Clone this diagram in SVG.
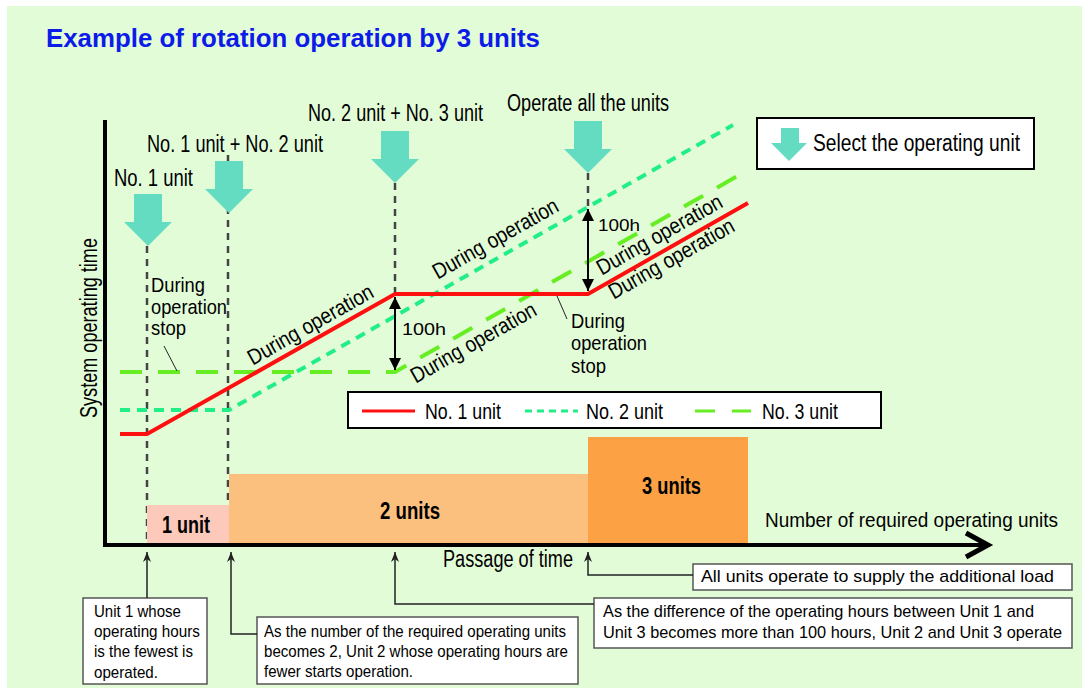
<svg xmlns="http://www.w3.org/2000/svg" width="1082" height="692" viewBox="0 0 1082 692">
<defs>
<style>
text{font-family:"Liberation Sans",Arial,sans-serif;fill:#000;}
.t21{font-size:23px;}
.t20{font-size:22px;}
.ts{font-size:21px;}
.t17{font-size:17px;}
.b{font-weight:bold;}
.vdash{stroke:#444;stroke-width:2.5;stroke-dasharray:7 6;fill:none;}
.red{stroke:#ff1010;stroke-width:4;fill:none;stroke-linejoin:miter;}
.g2{stroke:#22ee88;stroke-width:4;fill:none;stroke-dasharray:10 7;}
.g3{stroke:#66ee22;stroke-width:4;fill:none;stroke-dasharray:22 16;}
.box{fill:#fff;stroke:#555;stroke-width:1.5;}
.lbox{fill:#fff;stroke:#000;stroke-width:2;}
.lead{stroke:#222;stroke-width:1.5;fill:none;}
.teal{fill:#64dcc1;}
.dbl{stroke:#000;stroke-width:2;fill:none;}
</style>
<path id="bigArrow" d="M-14,-52 H14 V-24 H24 L0,0 L-24,-24 H-14 Z"/>
<marker id="up" viewBox="0 0 10 10" refX="10" refY="5" markerWidth="10" markerHeight="10" markerUnits="userSpaceOnUse" orient="auto">
<path d="M0,1 L10,5 L0,9 L3,5 Z" fill="#222"/>
</marker>
<marker id="tri" viewBox="0 0 12 12" refX="12" refY="6" markerWidth="12" markerHeight="12" markerUnits="userSpaceOnUse" orient="auto">
<path d="M0,0 L12,6 L0,12 Z" fill="#000"/>
</marker>
<marker id="triS" viewBox="0 0 12 12" refX="0" refY="6" markerWidth="12" markerHeight="12" markerUnits="userSpaceOnUse" orient="auto">
<path d="M12,0 L0,6 L12,12 Z" fill="#000"/>
</marker>
</defs>

<rect x="0" y="0" width="1082" height="692" fill="#fff"/>
<rect x="7" y="6" width="1075" height="682" fill="#e3fcd8"/>

<g id="title">
<text x="46" y="47" font-size="26" class="b" style="fill:#0d1be8" textLength="494" lengthAdjust="spacingAndGlyphs">Example of rotation operation by 3 units</text>
</g>

<g id="guides">
<line class="vdash" x1="147" y1="246" x2="147" y2="545"/>
<line class="vdash" x1="228" y1="155" x2="228" y2="545"/>
<line class="vdash" x1="395" y1="183" x2="395" y2="293"/>
<line class="vdash" x1="588" y1="173" x2="588" y2="207"/>
</g>

<g id="bars">
<rect x="147" y="505" width="82" height="40" fill="#fcc9bb"/>
<rect x="229" y="474" width="359" height="71" fill="#fcc07e"/>
<rect x="588" y="437" width="160" height="108" fill="#fca244"/>
<text x="162" y="533" class="t21 b" textLength="48" lengthAdjust="spacingAndGlyphs">1 unit</text>
<text x="380" y="519" class="t21 b" textLength="60" lengthAdjust="spacingAndGlyphs">2 units</text>
<text x="642" y="494" class="t21 b" textLength="59" lengthAdjust="spacingAndGlyphs">3 units</text>
</g>

<g id="lines">
<polyline class="g3" points="120,372 395,372 748,170"/>
<polyline class="g2" points="120,410 229,410 733,125"/>
<polyline class="red" points="120,434 147,434 395,294 588,294 748,203"/>
</g>

<g id="axes">
<line x1="105" y1="120" x2="105" y2="547" stroke="#000" stroke-width="4"/>
<line x1="103" y1="545" x2="986" y2="545" stroke="#000" stroke-width="4"/>
<polyline points="966,533 988,545 966,557" fill="none" stroke="#000" stroke-width="5"/>
<text transform="translate(97,418) rotate(-90)" class="t21" textLength="180" lengthAdjust="spacingAndGlyphs">System operating time</text>
<text x="765" y="527" font-size="20" textLength="293" lengthAdjust="spacingAndGlyphs">Number of required operating units</text>
<text x="443" y="567" class="t21" textLength="130" lengthAdjust="spacingAndGlyphs">Passage of time</text>
</g>

<g id="select-arrows">
<use href="#bigArrow" class="teal" transform="translate(148,246)"/>
<use href="#bigArrow" class="teal" transform="translate(229,213)"/>
<use href="#bigArrow" class="teal" transform="translate(395,183)"/>
<use href="#bigArrow" class="teal" transform="translate(588,173)"/>
<text x="114" y="186" class="t21" textLength="79" lengthAdjust="spacingAndGlyphs">No. 1 unit</text>
<text x="147" y="152" class="t21" textLength="176" lengthAdjust="spacingAndGlyphs">No. 1 unit + No. 2 unit</text>
<text x="308" y="121" class="t21" textLength="175" lengthAdjust="spacingAndGlyphs">No. 2 unit + No. 3 unit</text>
<text x="507" y="111" class="t21" textLength="162" lengthAdjust="spacingAndGlyphs">Operate all the units</text>
</g>

<g id="legend-select">
<rect class="lbox" x="757" y="118" width="277" height="51"/>
<path class="teal" d="M781,128 H799 V143 H807 L789,161 L771,143 H781 Z"/>
<text x="813" y="151" class="t21" textLength="207" lengthAdjust="spacingAndGlyphs">Select the operating unit</text>
</g>

<g id="legend-lines">
<rect class="lbox" x="348" y="392" width="533" height="36"/>
<line x1="362" y1="411" x2="415" y2="411" stroke="#ff1010" stroke-width="3"/>
<text x="425" y="419" class="t20" textLength="76" lengthAdjust="spacingAndGlyphs">No. 1 unit</text>
<line x1="525" y1="411" x2="578" y2="411" stroke="#22ee88" stroke-width="3" stroke-dasharray="7 5"/>
<text x="586" y="419" class="t20" textLength="77" lengthAdjust="spacingAndGlyphs">No. 2 unit</text>
<line x1="695" y1="411" x2="751" y2="411" stroke="#66ee22" stroke-width="3" stroke-dasharray="20 17"/>
<text x="762" y="419" class="t20" textLength="76" lengthAdjust="spacingAndGlyphs">No. 3 unit</text>
</g>

<g id="op-labels">
<text transform="translate(314,331) rotate(-29.5)" text-anchor="middle" class="t20" textLength="141" lengthAdjust="spacingAndGlyphs">During operation</text>
<text transform="translate(499,245) rotate(-29.5)" text-anchor="middle" class="t20" textLength="141" lengthAdjust="spacingAndGlyphs">During operation</text>
<text transform="translate(477,349) rotate(-29.5)" text-anchor="middle" class="t20" textLength="141" lengthAdjust="spacingAndGlyphs">During operation</text>
<text transform="translate(663,241) rotate(-29.5)" text-anchor="middle" class="t20" textLength="141" lengthAdjust="spacingAndGlyphs">During operation</text>
<text transform="translate(675,265) rotate(-29.5)" text-anchor="middle" class="t20" textLength="141" lengthAdjust="spacingAndGlyphs">During operation</text>
</g>

<g id="stop-left">
<text x="151" y="292" class="ts" textLength="54" lengthAdjust="spacingAndGlyphs">During</text>
<text x="151" y="314" class="ts" textLength="76" lengthAdjust="spacingAndGlyphs">operation</text>
<text x="151" y="335" class="ts" textLength="35" lengthAdjust="spacingAndGlyphs">stop</text>
<line x1="164" y1="346" x2="177" y2="371" stroke="#222" stroke-width="1"/>
</g>

<g id="stop-right">
<text x="571" y="328" class="ts" textLength="54" lengthAdjust="spacingAndGlyphs">During</text>
<text x="571" y="350" class="ts" textLength="76" lengthAdjust="spacingAndGlyphs">operation</text>
<text x="571" y="373" class="ts" textLength="35" lengthAdjust="spacingAndGlyphs">stop</text>
<line x1="557" y1="296" x2="567" y2="319" stroke="#222" stroke-width="1"/>
</g>

<g id="gap-100h">
<line class="dbl" x1="395" y1="297" x2="395" y2="370" marker-start="url(#triS)" marker-end="url(#tri)"/>
<text x="402" y="335" class="t17" textLength="44" lengthAdjust="spacingAndGlyphs">100h</text>
<line class="dbl" x1="588" y1="209" x2="588" y2="291" marker-start="url(#triS)" marker-end="url(#tri)"/>
<text x="598" y="231" class="t17" textLength="42" lengthAdjust="spacingAndGlyphs">100h</text>
</g>

<g id="note-1">
<rect class="box" x="83" y="598" width="124" height="86"/>
<text x="94" y="617" class="t17" textLength="87" lengthAdjust="spacingAndGlyphs">Unit 1 whose</text>
<text x="94" y="637" class="t17" textLength="106" lengthAdjust="spacingAndGlyphs">operating hours</text>
<text x="94" y="657" class="t17" textLength="99" lengthAdjust="spacingAndGlyphs">is the fewest is</text>
<text x="94" y="678" class="t17" textLength="64" lengthAdjust="spacingAndGlyphs">operated.</text>
</g>

<g id="note-2">
<rect class="box" x="257" y="617" width="321" height="67"/>
<text x="264" y="637" class="t17" textLength="302" lengthAdjust="spacingAndGlyphs">As the number of the required operating units</text>
<text x="264" y="657" class="t17" textLength="304" lengthAdjust="spacingAndGlyphs">becomes 2, Unit 2 whose operating hours are</text>
<text x="264" y="677" class="t17" textLength="149" lengthAdjust="spacingAndGlyphs">fewer starts operation.</text>
</g>

<g id="note-3">
<rect class="box" x="693" y="564" width="379" height="26"/>
<text x="701" y="582" class="t17" textLength="353" lengthAdjust="spacingAndGlyphs">All units operate to supply the additional load</text>
</g>

<g id="note-4">
<rect class="box" x="594" y="598" width="478" height="50"/>
<text x="603" y="617" class="t17" textLength="431" lengthAdjust="spacingAndGlyphs">As the difference of the operating hours between Unit 1 and</text>
<text x="603" y="638" class="t17" textLength="459" lengthAdjust="spacingAndGlyphs">Unit 3 becomes more than 100 hours, Unit 2 and Unit 3 operate</text>
</g>

<g id="connectors">
<polyline class="lead" points="147,598 147,552" marker-end="url(#up)"/>
<polyline class="lead" points="257,634 231,634 231,552" marker-end="url(#up)"/>
<polyline class="lead" points="594,604 395,604 395,552" marker-end="url(#up)"/>
<polyline class="lead" points="693,575 588,575 588,552" marker-end="url(#up)"/>
</g>
</svg>
